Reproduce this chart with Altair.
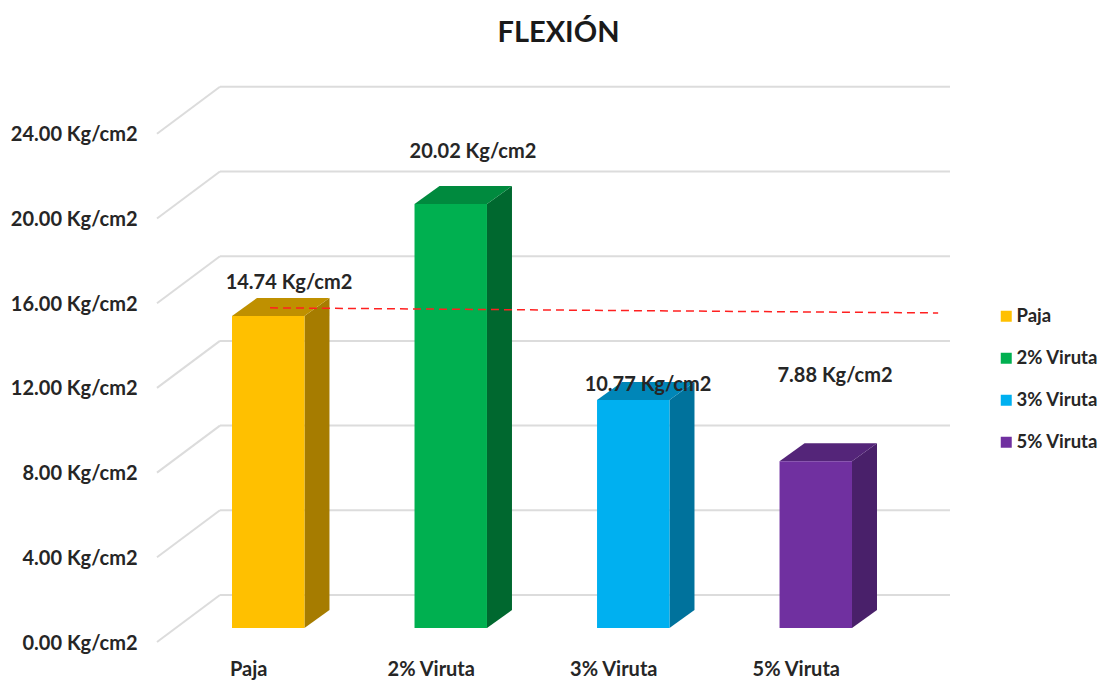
import json
import altair as alt
import pandas as pd

categories = ["Paja", "2% Viruta", "3% Viruta", "5% Viruta"]
values = [14.74, 20.02, 10.77, 7.88]
front_colors = ["#FFC000", "#00B050", "#00B0F0", "#7030A0"]
side_colors = ["#A67C00", "#00682F", "#00729C", "#49206A"]
top_colors = ["#BF9000", "#008A3E", "#0086B8", "#542579"]
label_texts = ["14.74 Kg/cm2", "20.02 Kg/cm2", "10.77 Kg/cm2", "7.88 Kg/cm2"]
label_x = [0.723, 1.731, 2.690, 3.715]
label_y = [16.30, 22.50, 11.48, 11.92]
ticks = [0, 4, 8, 12, 16, 20, 24]
trend_x = [0.619, 4.28]
trend_y = [15.12, 14.88]

# 3-D geometry in data units
bar_left = 0.411
bar_width = 0.397
depth_x = 0.137
depth_y = 0.85
wall_x = 0.345
wall_y = 1.56
front_y = -0.66
x_max = 4.345
y_max = 25.55

FONT = "Lato"
TEXT = "#262626"
GRID = "#DCDCDC"

x_scale = alt.Scale(domain=[0, x_max], nice=False, zero=False)
y_scale = alt.Scale(domain=[front_y, y_max], nice=False, zero=False)

cats_js = json.dumps(categories)
x_axis = alt.Axis(
    values=[0.5, 1.5, 2.5, 3.5], domain=False, ticks=False, grid=False, title=None,
    labelExpr=f"{cats_js}[floor(datum.value)]",
    labelFont=FONT, labelFontWeight="bold", labelFontSize=20, labelColor=TEXT,
    labelPadding=17, labelAngle=0)
y_axis = alt.Axis(
    values=ticks, domain=False, ticks=False, grid=False, title=None,
    labelExpr="format(datum.value, '.2f') + ' Kg/cm2'",
    labelFont=FONT, labelFontWeight="bold", labelFontSize=20, labelColor=TEXT,
    labelPadding=20, labelOffset=15)

bars = pd.DataFrame({
    "cat": categories,
    "value": values,
    "x0": [i + bar_left for i in range(4)],
    "x1": [i + bar_left + bar_width for i in range(4)],
    "base": [0.0] * 4,
})

side_rows, top_rows = [], []
for i, (c, v) in enumerate(zip(categories, values)):
    xr = i + bar_left + bar_width
    xl = i + bar_left
    side_rows += [
        {"cat": c, "x": xr, "lo": 0.0, "hi": v, "fill": side_colors[i]},
        {"cat": c, "x": xr + depth_x, "lo": depth_y, "hi": v + depth_y, "fill": side_colors[i]},
    ]
    top_rows += [
        {"cat": c, "a": xl, "b": xr, "y": v, "fill": top_colors[i]},
        {"cat": c, "a": xl + depth_x, "b": xr + depth_x, "y": v + depth_y, "fill": top_colors[i]},
    ]
side = pd.DataFrame(side_rows)
top = pd.DataFrame(top_rows)

walls = pd.DataFrame({
    "x0": [wall_x] * len(ticks),
    "x1": [x_max] * len(ticks),
    "y": [t + wall_y for t in ticks],
})
diag_rows = []
for t in ticks:
    diag_rows += [
        {"t": t, "x": 0.0, "y": t + front_y},
        {"t": t, "x": wall_x, "y": t + wall_y},
    ]
diag = pd.DataFrame(diag_rows)

labels = pd.DataFrame({"x": label_x, "y": label_y, "t": label_texts})
trend = pd.DataFrame({"x": trend_x, "y": trend_y})

wall_layer = alt.Chart(walls).mark_rule(color=GRID, strokeWidth=2).encode(
    x=alt.X("x0:Q", scale=x_scale, axis=x_axis),
    x2="x1:Q",
    y=alt.Y("y:Q", scale=y_scale, axis=y_axis),
)

diag_layer = alt.Chart(diag).mark_line(color=GRID, strokeWidth=2).encode(
    x=alt.X("x:Q", scale=x_scale, axis=x_axis),
    y=alt.Y("y:Q", scale=y_scale, axis=y_axis),
    detail="t:N",
)

side_layer = alt.Chart(side).mark_area(opacity=1).encode(
    x=alt.X("x:Q", scale=x_scale, axis=x_axis),
    y=alt.Y("lo:Q", scale=y_scale, axis=y_axis),
    y2="hi:Q",
    detail="cat:N",
    fill=alt.Fill("fill:N", scale=None),
)

top_layer = alt.Chart(top).mark_area(orient="horizontal", opacity=1).encode(
    y=alt.Y("y:Q", scale=y_scale, axis=y_axis),
    x=alt.X("a:Q", scale=x_scale, axis=x_axis),
    x2="b:Q",
    detail="cat:N",
    fill=alt.Fill("fill:N", scale=None),
)

front_layer = alt.Chart(bars).mark_rect().encode(
    x=alt.X("x0:Q", scale=x_scale, axis=x_axis),
    x2="x1:Q",
    y=alt.Y("base:Q", scale=y_scale, axis=y_axis),
    y2="value:Q",
    color=alt.Color("cat:N", sort=categories,
                    scale=alt.Scale(domain=categories, range=front_colors),
                    legend=alt.Legend(
                        title=None, orient="none", legendX=840, legendY=220,
                        symbolType="square", symbolSize=121, symbolStrokeWidth=0,
                        labelFont=FONT, labelFontWeight="bold", labelFontSize=18.5,
                        labelColor=TEXT, rowPadding=23, labelOffset=1,
                        labelLimit=200)),
)

trend_layer = alt.Chart(trend).mark_line(color="#FF2020", strokeWidth=1.5, strokeDash=[8, 5]).encode(
    x=alt.X("x:Q", scale=x_scale, axis=x_axis),
    y=alt.Y("y:Q", scale=y_scale, axis=y_axis),
)

text_layer = alt.Chart(labels).mark_text(
    font=FONT, fontWeight="bold", fontSize=20, color=TEXT, align="center", baseline="middle"
).encode(
    x=alt.X("x:Q", scale=x_scale, axis=x_axis),
    y=alt.Y("y:Q", scale=y_scale, axis=y_axis),
    text="t:N",
)

chart = alt.layer(
    wall_layer, diag_layer, side_layer, top_layer, front_layer, trend_layer, text_layer
).properties(
    width=793,
    height=555,
    autosize=alt.AutoSizeParams(type="none"),
    padding={"left": 149, "top": 79, "right": 149, "bottom": 38},
    title=alt.TitleParams(
        "FLEXIÓN", font=FONT, fontSize=29, fontWeight="bold", color="#1A1A1A",
        anchor="middle", dx=5, offset=35),
).configure_view(stroke=None)

chart.save("out.html", embed_options={"renderer": "svg", "actions": False})
